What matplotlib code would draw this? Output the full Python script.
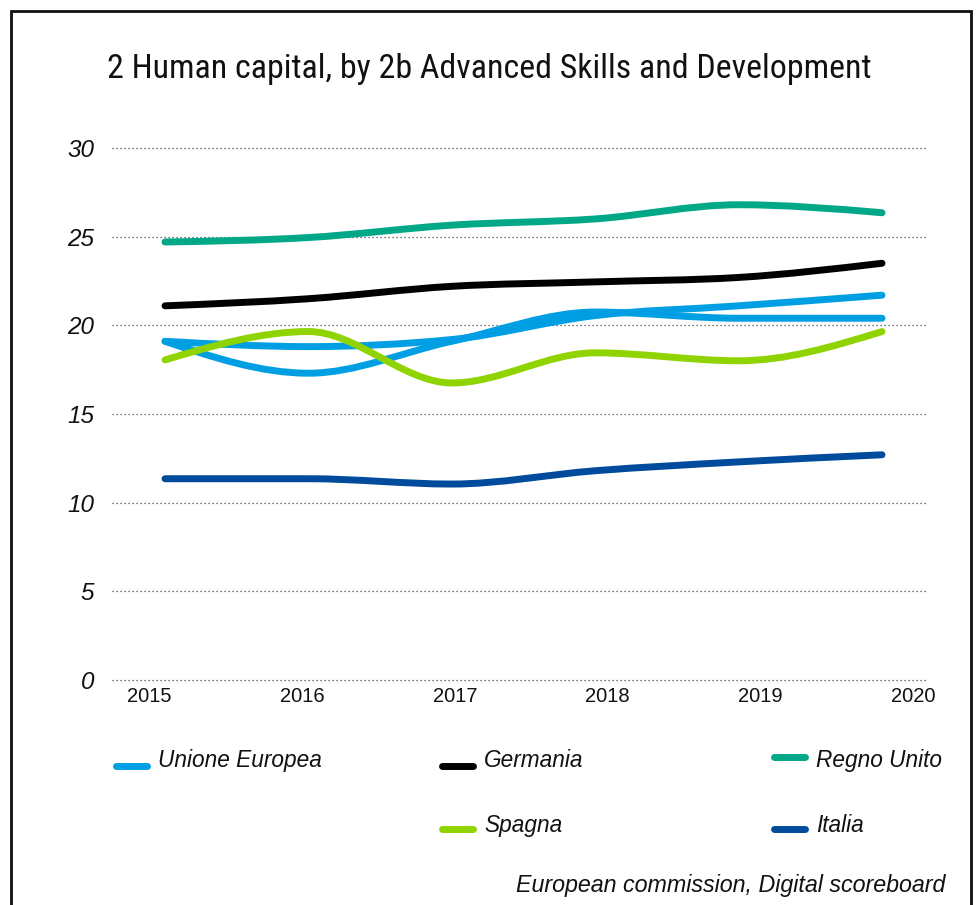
import numpy as np
import matplotlib
matplotlib.use("Agg")
import matplotlib.pyplot as plt
from matplotlib.path import Path
from matplotlib.patches import PathPatch
from matplotlib.lines import Line2D

# ---------------- data ----------------
years = [2015, 2016, 2017, 2018, 2019, 2020]
series_names = ["Unione Europea", "Germania", "Regno Unito", "Spagna", "Italia"]
unione_europea = [19.1, 17.3, 19.1, 20.75, 20.4, 20.4]
unione_europea_b = [19.1, 18.8, 19.2, 20.55, 21.1, 21.7]
germania = [21.1, 21.5, 22.2, 22.45, 22.7, 23.5]
regno_unito = [24.7, 24.95, 25.65, 26.0, 26.8, 26.35]
spagna = [18.05, 19.65, 16.75, 18.45, 18.0, 19.65]
italia = [11.35, 11.35, 11.05, 11.8, 12.3, 12.7]
y_ticks = [0, 5, 10, 15, 20, 25, 30]

colors = {
    "Unione Europea": "#009FE3",
    "Germania": "#000000",
    "Regno Unito": "#00A887",
    "Spagna": "#8FD400",
    "Italia": "#004B9B",
}

W, H = 979, 905
DPI = 100
fig = plt.figure(figsize=(W / DPI, H / DPI), dpi=DPI)
fig.patch.set_facecolor("white")
SANS = ["Liberation Sans", "DejaVu Sans"]


def fx(px):
    return px / W


def fy(py):
    return 1 - py / H


# axes placement (pixels)
ax_l, ax_r, ax_t, ax_b = 112, 927, 148, 680
ax = fig.add_axes([fx(ax_l), fy(ax_b), (ax_r - ax_l) / W, (ax_b - ax_t) / H])
ax.set_facecolor("none")

# index positions for data; first point at 165 px, last at 882 px
x0_px, x5_px = 165, 882
unit = (x5_px - x0_px) / 5
ax.set_xlim(-(x0_px - ax_l) / unit, 5 + (ax_r - x5_px) / unit)
ax.set_ylim(0, 30)
for s in ax.spines.values():
    s.set_visible(False)
ax.set_xticks([])
ax.set_yticks(y_ticks)
ax.set_yticklabels([str(v) for v in y_ticks], fontstyle="italic",
                   family=SANS, fontsize=17.5, color="#111111")
ax.tick_params(axis="y", length=0, pad=13)
for v in y_ticks:
    ax.axhline(v, color="#444444", lw=0.9, linestyle=(0, (1, 2.2)), zorder=1, clip_on=False)

# year labels on their own scale (as in the reference)
ax2 = ax.twiny()
ax2.set_facecolor("none")
lab0, lab5 = 149.5, 913
yunit = (lab5 - lab0) / 5
ax2.set_xlim(2015 - (lab0 - ax_l) / yunit, 2020 + (ax_r - lab5) / yunit)
ax2.xaxis.set_ticks_position("bottom")
ax2.xaxis.set_label_position("bottom")
ax2.set_xticks(years)
ax2.set_xticklabels([str(y) for y in years], family=SANS, fontsize=14.5, color="#111111")
ax2.tick_params(axis="x", length=0, pad=5)
for s in ax2.spines.values():
    s.set_visible(False)


def monotone_path(xs, ys):
    xs = np.asarray(xs, float)
    ys = np.asarray(ys, float)
    n = len(xs)
    h = np.diff(xs)
    s = np.diff(ys) / h
    t = np.zeros(n)
    for i in range(1, n - 1):
        s0, s1 = s[i - 1], s[i]
        p = (s0 * h[i] + s1 * h[i - 1]) / (h[i - 1] + h[i])
        t[i] = (np.sign(s0) + np.sign(s1)) * min(abs(s0), abs(s1), 0.5 * abs(p))
    t[0] = (3 * s[0] - t[1]) / 2
    t[-1] = (3 * s[-1] - t[-2]) / 2
    verts = [(xs[0], ys[0])]
    codes = [Path.MOVETO]
    for i in range(n - 1):
        d = h[i] / 3
        verts += [(xs[i] + d, ys[i] + t[i] * d), (xs[i + 1] - d, ys[i + 1] - t[i + 1] * d),
                  (xs[i + 1], ys[i + 1])]
        codes += [Path.CURVE4] * 3
    return Path(verts, codes)


xidx = np.arange(len(years))
LW = 5.0
draw_order = [
    (regno_unito, "Regno Unito"),
    (germania, "Germania"),
    (unione_europea_b, "Unione Europea"),
    (unione_europea, "Unione Europea"),
    (spagna, "Spagna"),
    (italia, "Italia"),
]
for vals, name in draw_order:
    patch = PathPatch(monotone_path(xidx, vals), facecolor="none", edgecolor=colors[name],
                      lw=LW, capstyle="round", joinstyle="round", zorder=3, clip_on=False)
    ax.add_patch(patch)

fig.canvas.draw()
r = fig.canvas.get_renderer()


def fit_text(t, target_px):
    fs = t.get_fontsize()
    bb = t.get_window_extent(r)
    t.set_fontsize(fs * target_px / bb.width)


# title
title = fig.text(0.5, fy(78), "2 Human capital, by 2b Advanced Skills and Development",
                 ha="center", va="baseline", fontsize=26,
                 family=["Liberation Sans Narrow", "Roboto Condensed", "DejaVu Sans"],
                 color="#111111")
fit_text(title, 763)

# legend (manual layout): handle x-start, handle y, text baseline y
legend_pos = {
    "Unione Europea": (113, 766, 767),
    "Germania": (439, 766, 767),
    "Regno Unito": (771, 757, 767),
    "Spagna": (439, 829, 832),
    "Italia": (771, 829, 832),
}
ref = fig.text(0, 0, "Unione Europea", fontsize=16, fontstyle="italic", family=SANS)
fit_text(ref, 164)
leg_fs = ref.get_fontsize()
ref.remove()
cap = LW * DPI / 72 / 2
for name in series_names:
    lx, ly, tb = legend_pos[name]
    fig.add_artist(Line2D([fx(lx + cap), fx(lx + 37 - cap)], [fy(ly), fy(ly)],
                          color=colors[name], lw=LW, solid_capstyle="round",
                          transform=fig.transFigure))
    fig.text(fx(lx + 45), fy(tb), name, ha="left", va="baseline", fontsize=leg_fs,
             fontstyle="italic", family=SANS, color="#111111")

src = fig.text(fx(945), fy(892), "European commission, Digital scoreboard", ha="right",
               va="baseline", fontsize=16, fontstyle="italic", family=SANS, color="#111111")
fit_text(src, 430)

# frame
fl, fr, ft = 11, 971, 11
fig.add_artist(Line2D([fx(fl), fx(fl), fx(fr), fx(fr)], [0, fy(ft), fy(ft), 0],
                      color="#111111", lw=2.0, transform=fig.transFigure,
                      solid_joinstyle="miter"))

fig.savefig("out.png", dpi=DPI, facecolor="white")
